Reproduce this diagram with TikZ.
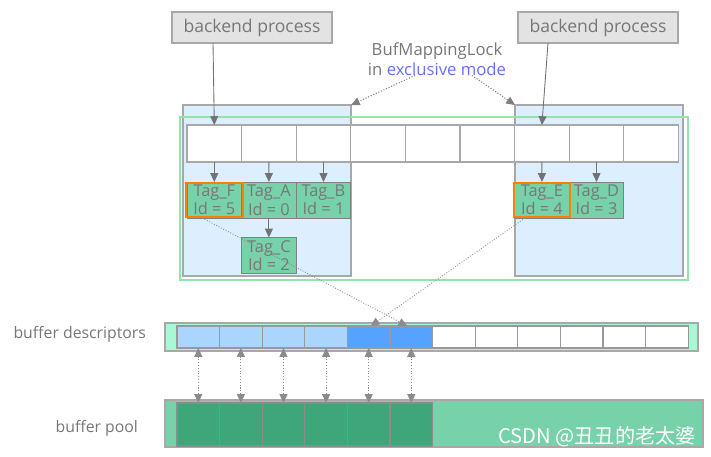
\documentclass[tikz,border=0pt]{standalone}
\usepackage{fontspec}
\setmainfont{Open Sans}
\newfontfamily\cjk{Noto Sans CJK SC}
\usetikzlibrary{arrows.meta}
\definecolor{txtgray}{HTML}{777777}
\definecolor{linegray}{HTML}{A8A8A8}
\definecolor{lockblue}{HTML}{6670FF}
\definecolor{regionblue}{HTML}{DDEEFF}
\definecolor{framegreen}{HTML}{8EE6A8}
\definecolor{taggreen}{HTML}{77D1A9}
\definecolor{tagorange}{HTML}{FF8000}
\definecolor{descgreen}{HTML}{AAF7D6}
\definecolor{desclight}{HTML}{AAD5FF}
\definecolor{descblue}{HTML}{55A2FF}
\definecolor{poolgreen}{HTML}{77D1A9}
\definecolor{pooldark}{HTML}{3FA67A}
\tikzset{every node/.style={inner sep=0pt, outer sep=0pt, text=txtgray, font=\fontsize{9.5}{10.5}\selectfont},
  process/.style={draw=linegray, fill=black!11, line width=0.6pt, minimum width=3.2cm, minimum height=0.62cm, font=\fontsize{10}{12}\selectfont},
  region/.style={draw=linegray, fill=regionblue, line width=0.6pt, minimum width=3.36cm, minimum height=3.42cm},
  hcell/.style={draw=linegray, fill=white, line width=0.6pt, minimum width=1.092cm, minimum height=0.74cm},
  tag/.style={draw=black!50, fill=taggreen, line width=0.5pt, minimum width=1.092cm, minimum height=0.72cm, align=center, font=\fontsize{9.3}{10.5}\selectfont},
  hot/.style={draw=tagorange, line width=1.2pt},
  dcell/.style={draw=black!40, line width=0.6pt, minimum width=0.852cm, minimum height=0.44cm},
  pcell/.style={draw=black!45, fill=pooldark, line width=0.6pt, minimum width=0.852cm, minimum height=0.86cm},
  arr/.style={draw=black!55, line width=0.5pt, -{Triangle[length=5pt,width=4.5pt]}},
  lockarr/.style={draw=black!50, densely dotted, line width=0.6pt, -{Triangle[length=5pt,width=4.5pt]}},
  link/.style={draw=black!45, densely dotted, line width=0.6pt, {Triangle[length=5pt,width=4.5pt]}-{Triangle[length=5pt,width=4.5pt]}},
  cross/.style={draw=black!45, densely dotted, line width=0.5pt, -{Triangle[length=5pt,width=4.5pt]}}}
\begin{document}
\begin{tikzpicture}[x=0.02cm,y=-0.02cm]
  \useasboundingbox (0,0) rectangle (711,457);
  \node[process] (bp1) at (252,27.5) {backend process};
  \node[process] (bp2) at (598,27.5) {backend process};
  \node[align=center, font=\fontsize{9.5}{11.3}\selectfont] (lock) at (437,59) {BufMappingLock\\in {\color{lockblue}exclusive mode}};
  \node[region] (regL) at (267,190.5) {};
  \node[region] (regR) at (599,190.5) {};
  \draw[framegreen, line width=0.7pt] (180,117) rectangle (688,280);
  \foreach \i in {0,...,8} \node[hcell] (h\i) at ({214.3+54.6*\i},143.5) {};
  \node[tag] (tagF) at (214.3,200) {Tag\_F\\Id = 5};
  \node[tag] (tagA) at (268.9,200) {Tag\_A\\Id = 0};
  \node[tag] (tagB) at (323.5,200) {Tag\_B\\Id = 1};
  \node[tag] (tagC) at (268.9,255.5) {Tag\_C\\Id = 2};
  \node[tag] (tagE) at (541.9,200) {Tag\_E\\Id = 4};
  \node[tag] (tagD) at (596.5,200) {Tag\_D\\Id = 3};
  \draw[hot] ([shift={(-1,-1)}]tagF.south west) rectangle ([shift={(1,1)}]tagF.north east);
  \draw[hot] ([shift={(-1,-1)}]tagE.south west) rectangle ([shift={(1,1)}]tagE.north east);
  \draw[arr] ([xshift=-0.78cm]bp1.south) -- (h0.north);
  \draw[arr] ([xshift=-1cm]bp2.south) -- (h6.north);
  \draw[lockarr] ([xshift=-0.44cm]lock.south) -- (regL.north east);
  \draw[lockarr] ([xshift=0.7cm]lock.south) -- (regR.north west);
  \foreach \c/\t in {h0/tagF, h1/tagA, h2/tagB, tagA/tagC, h6/tagE, h7/tagD}
    \draw[arr] (\c.south) -- (\t.north);
  \draw[fill=descgreen, draw=linegray, line width=0.6pt] (165,323) rectangle (698,351);
  \foreach \i/\col in {0/desclight, 1/desclight, 2/desclight, 3/desclight, 4/descblue, 5/descblue, 6/white, 7/white, 8/white, 9/white, 10/white, 11/white}
    \node[dcell, fill=\col] (d\i) at ({198.3+42.6*\i},337) {};
  \node[anchor=east, font=\fontsize{9}{11}\selectfont] (desclabel) at (146,334) {buffer descriptors};
  \draw[fill=poolgreen, draw=linegray, line width=0.6pt] (165,400) rectangle (703,447);
  \foreach \i in {0,...,5} \node[pcell] (p\i) at ({198.3+42.6*\i},424.5) {};
  \node[anchor=east, font=\fontsize{9}{11}\selectfont] (poollabel) at (138,428) {buffer pool};
  \foreach \i in {0,...,5} \draw[link] (d\i.south) -- (p\i.north);
  \draw[cross] ([xshift=-0.24cm]tagF.south) -- ([xshift=-0.08cm]d5.north);
  \draw[cross] ([xshift=-0.34cm]tagE.south) -- ([xshift=0.04cm]d4.north);
  \node[anchor=east, text=white, font=\cjk\fontsize{11.5}{13}\selectfont] (mark) at (696,437) {CSDN @丑丑的老太婆};
\end{tikzpicture}
\end{document}
